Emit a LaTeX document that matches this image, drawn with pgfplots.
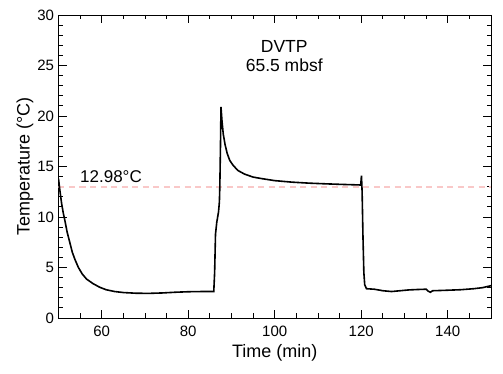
\documentclass[border=0pt]{standalone}
\usepackage{pgfplots}
\pgfplotsset{compat=1.18}
\usepackage{fontspec}
\setmainfont{Liberation Sans}
\definecolor{refpink}{RGB}{249,200,200}
\begin{document}
\begin{tikzpicture}
\useasboundingbox (-58.5pt,-56pt) rectangle (444.5pt,318pt);
\begin{axis}[
  scale only axis,
  width=432.5pt, height=303pt,
  xmin=50, xmax=150, ymin=0, ymax=30,
  xtick={60,80,...,140},
  minor xtick={50,55,...,150},
  ytick={0,5,...,30},
  minor ytick={0,1,...,30},
  tick align=inside,
  major tick length=8pt,
  minor tick length=4.5pt,
  tick style={black, line width=0.8pt},
  axis line style={black, line width=0.9pt},
  xticklabel style={font=\fontsize{15}{17}\selectfont, yshift=-4pt},
  yticklabel style={font=\fontsize{15}{17}\selectfont, xshift=-1pt},
  /pgf/number format/assume math mode=true,
  xlabel={Time (min)},
  ylabel={Temperature (°C)},
  xlabel style={font=\fontsize{18}{20}\selectfont, yshift=-1pt},
  ylabel style={font=\fontsize{18}{20}\selectfont, yshift=-3pt},
  clip=true,
]
\addplot[refpink, line width=1.4pt, dash pattern=on 6pt off 4.5pt] coordinates {(50,12.98) (150,12.98)};
\addplot[black, line width=1.6pt] coordinates {
(50.0,13.8) (50.3,12.7) (50.7,11.4) (51.1,10.4) (51.5,9.6) (52.0,8.5) (52.6,7.5)
(53.2,6.5) (53.8,5.8) (54.6,5.0) (55.5,4.35) (56.5,3.85) (58.0,3.4) (59.5,3.05)
(61,2.8) (63,2.62) (65,2.52) (68,2.45) (71,2.44) (74,2.48) (77,2.55) (80,2.6)
(83,2.62) (85.9,2.62) (86.1,4.5) (86.3,8.3) (86.6,9.5) (87.0,10.5) (87.2,11.5)
(87.3,13) (87.45,17) (87.57,20.9) (87.8,19.5) (88.1,18.2) (88.5,17.2) (89,16.3)
(89.6,15.6) (90.4,15.1) (91.5,14.6) (93,14.25) (95,13.95) (97,13.8) (100,13.6)
(104,13.45) (108,13.35) (112,13.28) (116,13.22) (119.8,13.17) (119.9,13.3)
(120.05,14.1) (120.2,12.5) (120.4,8) (120.6,4.5) (120.8,3.3) (121.2,2.9)
(123,2.85) (125,2.7) (127,2.62) (129,2.7) (131,2.78) (133,2.82) (135,2.85)
(135.5,2.65) (136,2.55) (136.5,2.7) (138,2.72) (140,2.75) (143,2.8) (146,2.9)
(148,3.0) (150,3.2)
};
\node[anchor=base west, font=\fontsize{17}{19}\selectfont] at (axis cs:54.2,13.45) {12.98°C};
\node[align=center, font=\fontsize{17.5}{19}\selectfont] at (axis cs:102.2,25.9) {DVTP\\65.5 mbsf};
\end{axis}
\end{tikzpicture}
\end{document}
